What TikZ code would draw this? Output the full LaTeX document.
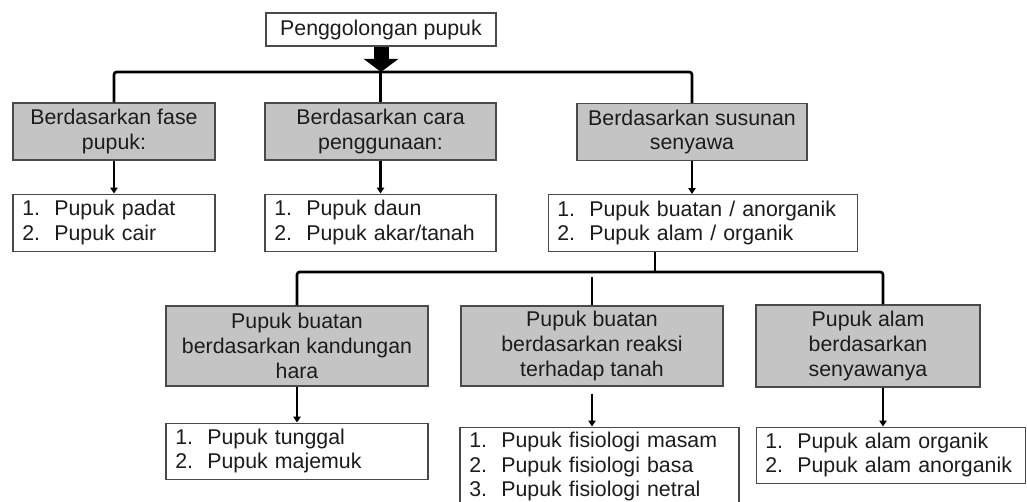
\documentclass[tikz,border=0pt]{standalone}
\usepackage{fontspec}
\setmainfont{Liberation Sans}
\usetikzlibrary{arrows.meta,positioning}

\definecolor{abu}{HTML}{C4C4C4}
\definecolor{garis}{HTML}{4A4A4A}
\definecolor{teks}{HTML}{1C1C1C}
\newcommand{\butir}[1]{\makebox[24pt][l]{#1}}

\begin{document}
\begin{tikzpicture}[
    x = 0.75pt, y = -0.75pt, % pixel grid, y going down
    > = {Triangle[width=5.5pt,length=4.5pt]}, % arrow head style
    line width = 2pt, % connector style
    font = \fontsize{16}{18.6}\selectfont
    ]
    \useasboundingbox (0,0) rectangle (1027,502);

    \tikzset{
    kotak/.style = {draw = garis, line width = 0.8pt, fill = abu, text = teks,
        align = center, inner sep = 0pt, minimum width = #1},
    daftar/.style = {draw = garis, line width = 0.8pt, fill = white, text = teks,
        align = left, inner xsep = 7pt, inner ysep = 0pt, text width = #1}
    }

    % top row
    \node[kotak=172.5pt, fill=white, minimum height=24.75pt] (root) at (381,29.5) {Penggolongan pupuk};
    \node[kotak=151.5pt, minimum height=42.75pt] (fase) at (114,131.5) {Berdasarkan fase\\pupuk:};
    \node[kotak=173.25pt, minimum height=42.75pt] (cara) at (380.5,131.5) {Berdasarkan cara\\penggunaan:};
    \node[kotak=172.5pt, minimum height=42.75pt] (susunan) at (692,132) {Berdasarkan susunan\\senyawa};

    \node[daftar=137.5pt, minimum height=42.75pt] (fasel) [below=24.75pt of fase]
        {\butir{1.}Pupuk padat\\\butir{2.}Pupuk cair};
    \node[daftar=159.25pt, minimum height=42.75pt] (caral) [below=24.75pt of cara]
        {\butir{1.}Pupuk daun\\\butir{2.}Pupuk akar/tanah};
    \node[daftar=217.75pt, minimum height=42.75pt] (susunanl) [below=24.75pt of susunan, xshift=7.9pt]
        {\butir{1.}Pupuk buatan / anorganik\\\butir{2.}Pupuk alam / organik};

    % second row
    \node[kotak=196.5pt, minimum height=60pt] (hara) at (297,346) {Pupuk buatan\\berdasarkan kandungan\\hara};
    \node[kotak=196.5pt, minimum height=60pt] (reaksi) at (592,346) {Pupuk buatan\\berdasarkan reaksi\\terhadap tanah};
    \node[kotak=168pt, minimum height=61.5pt] (alam) at (868,346) {Pupuk alam\\berdasarkan\\senyawanya};

    \node[daftar=182.5pt, minimum height=42pt] (haral) [below=27pt of hara]
        {\butir{1.}Pupuk tunggal\\\butir{2.}Pupuk majemuk};
    \node[daftar=195.25pt, minimum height=59.25pt] (reaksil) [below=30pt of reaksi, xshift=5.6pt]
        {\butir{1.}Pupuk fisiologi masam\\\butir{2.}Pupuk fisiologi basa\\\butir{3.}Pupuk fisiologi netral};
    \node[daftar=187.75pt, minimum height=42pt] (alaml) [below=29.25pt of alam, xshift=16.9pt]
        {\butir{1.}Pupuk alam organik\\\butir{2.}Pupuk alam anorganik};

    % connectors
    \coordinate (bus1) at (381,72);
    \coordinate (bus2) at (655,272);
    \coordinate (tengah) at (592,277);
    \coordinate (kanan) at (883,272);

    \draw[rounded corners=2pt] (fase.north) |- (bus1) -| (susunan.north);
    \draw (bus1 -| cara.north) -- (cara.north);
    \draw[line width=11.25pt, -{Triangle[width=25.5pt,length=9.75pt]}] (root.south) -- (bus1);

    \draw[->] (fase) -- (fasel);
    \draw[->] (cara) -- (caral);
    \draw[->] (susunan.south) -- (susunan.south |- susunanl.north);

    \draw (susunanl.south -| bus2) -- (bus2);
    \draw[rounded corners=2pt] (hara.north) |- (bus2) -| (alam.north -| kanan);
    \draw (tengah) -- (reaksi.north);

    \draw[->] (hara) -- (haral);
    \draw[->, shorten <=5.25pt] (reaksi.south) -- (reaksi.south |- reaksil.north);
    \draw[->] (alam.south -| kanan) -- (alaml.north -| kanan);
\end{tikzpicture}
\end{document}
